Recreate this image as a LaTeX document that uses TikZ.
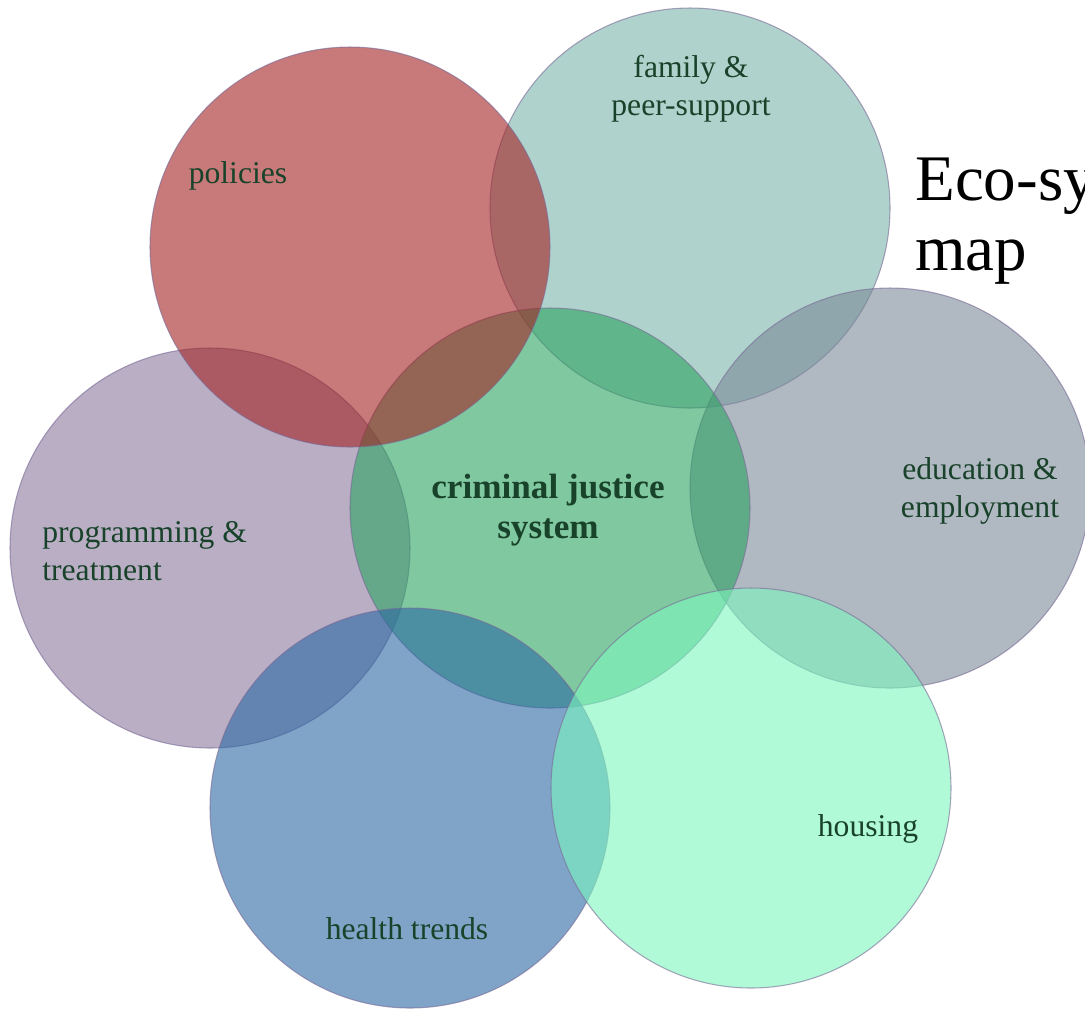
\documentclass[tikz,border=0pt]{standalone}
\usepackage{fontspec}
\setmainfont{Liberation Serif}
\usepackage{tikz}

\definecolor{familyteal}{RGB}{123,180,170}
\definecolor{eduslate}{RGB}{123,137,153}
\definecolor{progmauve}{RGB}{138,120,157}
\definecolor{cjsgreen}{RGB}{43,163,97}
\definecolor{policyred}{RGB}{163,33,33}
\definecolor{healthblue}{RGB}{42,103,163}
\definecolor{housingmint}{RGB}{123,247,190}
\definecolor{bubbleline}{RGB}{120,105,150}
\definecolor{textgreen}{RGB}{25,66,42}

\begin{document}
\begin{tikzpicture}[x=0.02cm,y=-0.02cm,
  bubble/.style={draw=bubbleline,line width=0.6pt,draw opacity=0.6,fill opacity=0.6},
  bubbletext/.style={text=textgreen,inner sep=0pt,align=center,font=\fontsize{18}{21.5}\selectfont}]

\useasboundingbox (0,0) rectangle (1085,1009);
\clip (0,0) rectangle (1085,1009);

% circles, back to front
\draw[bubble,fill=familyteal] (690,208) circle (200);
\draw[bubble,fill=eduslate] (890,488) circle (200);
\draw[bubble,fill=progmauve] (210,548) circle (200);
\draw[bubble,fill=cjsgreen] (550,508) circle (200);
\draw[bubble,fill=policyred] (350,247) circle (200);
\draw[bubble,fill=healthblue] (410,808) circle (200);
\draw[bubble,fill=housingmint] (751,788) circle (200);

% labels
\node[bubbletext] (policies) at (238,176) {policies};
\node[bubbletext] (family) at (691,89) {family \&\\peer-support};
\node[bubbletext,font=\bfseries\fontsize{20}{22.7}\selectfont] (cjs) at (548,510) {criminal justice\\system};
\node[bubbletext] (education) at (980,491) {education \&\\employment};
\node[bubbletext,align=left,anchor=west] (programming) at (42,551) {programming \&\\treatment};
\node[bubbletext] (housing) at (868,829) {housing};
\node[bubbletext] (health) at (407,929) {health trends};

% title
\node[inner sep=0pt,anchor=base west,align=left,font=\fontsize{37}{40}\selectfont] (title) at (915,200) {Eco-sy};
\node[inner sep=0pt,anchor=base west,font=\fontsize{37}{40}\selectfont] (titlemap) at (915,270) {map};

\end{tikzpicture}
\end{document}
